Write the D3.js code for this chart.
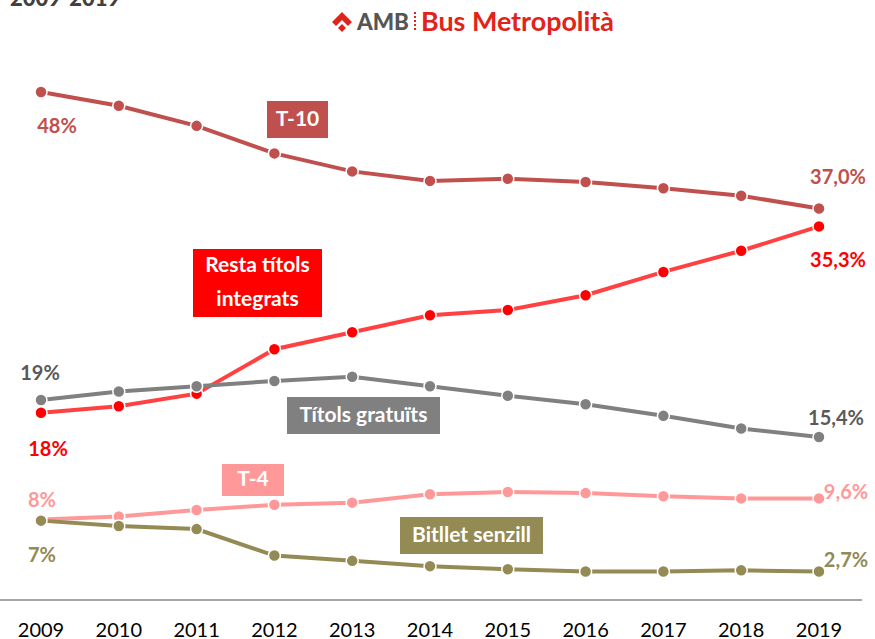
<!DOCTYPE html>
<html>
<head>
<meta charset="utf-8">
<script src="https://cdn.jsdelivr.net/npm/d3@7"></script>
<style>
  body { margin: 0; background: #fff; }
  svg { font-family: Lato, "Open Sans", sans-serif; }
</style>
</head>
<body>
<div id="chart"></div>
<script>
// Data: share of trips by ticket type, 2009-2019
const years = ["2009", "2010", "2011", "2012", "2013", "2014", "2015", "2016", "2017", "2018", "2019"];
const t10 = [48.0, 46.7, 44.8, 42.2, 40.5, 39.6, 39.8, 39.5, 38.9, 38.2, 37.0];
const resta = [17.7, 18.3, 19.5, 23.7, 25.3, 26.9, 27.4, 28.8, 31.0, 33.0, 35.3];
const gratuits = [18.9, 19.7, 20.2, 20.7, 21.1, 20.2, 19.3, 18.5, 17.4, 16.2, 15.4];
const t4 = [7.6, 7.9, 8.5, 9.0, 9.2, 10.0, 10.2, 10.1, 9.8, 9.6, 9.6];
const bitllet = [7.5, 7.0, 6.7, 4.2, 3.7, 3.2, 2.9, 2.7, 2.7, 2.8, 2.7];

const width = 875;
const height = 639;

const svg = d3.select("#chart")
  .append("svg")
  .attr("width", width)
  .attr("height", height);

const x = d3.scalePoint().domain(years).range([41, 819]);
const y = d3.scaleLinear().domain([0, 48]).range([600, 92]);

// title (cut at top) and logo
svg.append("text")
  .attr("x", 10).attr("y", 6)
  .style("font-size", "22px").style("font-weight", "900")
  .style("fill", "#404040")
  .text("2009-2019");

const logo = svg.append("g").attr("transform", "translate(332,22)");
logo.append("path")
  .attr("d", "M0,0 L10,-10 L20,0 L16,4 L10,-2 L4,4 Z M6,6 L10,2 L14,6 L10,10 Z")
  .attr("fill", "#e2231a");
logo.append("text")
  .attr("x", 25).attr("y", 8)
  .attr("textLength", 52)
  .attr("lengthAdjust", "spacingAndGlyphs")
  .style("font-size", "23px").style("font-weight", "900")
  .style("fill", "#555")
  .text("AMB");
logo.append("line")
  .attr("x1", 83).attr("x2", 83).attr("y1", -10).attr("y2", 10)
  .attr("stroke", "#e2231a").attr("stroke-width", 2).attr("stroke-dasharray", "2,2");
logo.append("text")
  .attr("x", 89).attr("y", 9)
  .attr("textLength", 193)
  .attr("lengthAdjust", "spacingAndGlyphs")
  .style("font-size", "26px").style("font-weight", "bold")
  .style("fill", "#e2231a")
  .text("Bus Metropolità");

// x axis line and labels
svg.append("line")
  .attr("x1", 0).attr("x2", 862)
  .attr("y1", y(0)).attr("y2", y(0))
  .attr("stroke", "#a6a6a6").attr("stroke-width", 2);

svg.selectAll(".year")
  .data(years)
  .enter()
  .append("text")
  .attr("class", "year")
  .attr("x", d => x(d))
  .attr("y", 637)
  .attr("text-anchor", "middle")
  .style("font-size", "20px")
  .style("fill", "#000")
  .text(d => d);

const series = [
  { name: "T-10", values: t10, line: "#c0504d", dot: "#c0504d", text: "#c0504d" },
  { name: "Resta", values: resta, line: "#ff4141", dot: "#ff0000", text: "#ff0000" },
  { name: "Gratuits", values: gratuits, line: "#808080", dot: "#808080", text: "#595959" },
  { name: "T-4", values: t4, line: "#ff9999", dot: "#ff9999", text: "#ff9999" },
  { name: "Bitllet", values: bitllet, line: "#948a54", dot: "#948a54", text: "#948a54" }
];

const line = d3.line()
  .x((d, i) => x(years[i]))
  .y(d => y(d));

series.forEach(s => {
  svg.append("path")
    .attr("d", line(s.values))
    .attr("fill", "none")
    .attr("stroke", s.line)
    .attr("stroke-width", 4);
  svg.selectAll(null)
    .data(s.values)
    .enter()
    .append("circle")
    .attr("cx", (d, i) => x(years[i]))
    .attr("cy", d => y(d))
    .attr("r", 6)
    .attr("fill", s.dot)
    .attr("stroke", "#fff")
    .attr("stroke-width", 1.5);
});

// value labels at start and end
const endLabels = [
  { s: 0, i: 0, text: "48%", dx: 16, dy: 36 },
  { s: 0, i: 10, text: "37,0%", dx: 19, dy: -30 },
  { s: 1, i: 10, text: "35,3%", dx: 19, dy: 35 },
  { s: 2, i: 0, text: "19%", dx: -1, dy: -25 },
  { s: 1, i: 0, text: "18%", dx: 7, dy: 38 },
  { s: 2, i: 10, text: "15,4%", dx: 17, dy: -17 },
  { s: 3, i: 0, text: "8%", dx: 1, dy: -18 },
  { s: 4, i: 0, text: "7%", dx: 1, dy: 36 },
  { s: 3, i: 10, text: "9,6%", dx: 27, dy: -5 },
  { s: 4, i: 10, text: "2,7%", dx: 27, dy: -10 }
];

svg.selectAll(".val")
  .data(endLabels)
  .enter()
  .append("text")
  .attr("class", "val")
  .attr("x", d => x(years[d.i]) + d.dx)
  .attr("y", d => y(series[d.s].values[d.i]) + d.dy)
  .attr("text-anchor", "middle")
  .attr("dominant-baseline", "middle")
  .style("font-size", "20px")
  .style("font-weight", "bold")
  .style("fill", d => series[d.s].text)
  .text(d => d.text);

// boxed series names
const boxes = [
  { lines: ["T-10"], x: 267, y: 101, w: 61, h: 37, fill: "#c0504d" },
  { lines: ["Resta títols", "integrats"], x: 193, y: 249, w: 129, h: 68, fill: "#ff0000" },
  { lines: ["Títols gratuïts"], x: 287, y: 397, w: 153, h: 37, fill: "#808080" },
  { lines: ["T-4"], x: 222, y: 464, w: 62, h: 32, fill: "#ff9999" },
  { lines: ["Bitllet senzill"], x: 400, y: 517, w: 143, h: 37, fill: "#948a54" }
];

boxes.forEach(b => {
  const g = svg.append("g");
  g.append("rect")
    .attr("x", b.x).attr("y", b.y)
    .attr("width", b.w).attr("height", b.h)
    .attr("fill", b.fill);
  const lh = b.h / b.lines.length;
  b.lines.forEach((t, k) => {
    g.append("text")
      .attr("x", b.x + b.w / 2)
      .attr("y", b.y + lh * k + lh / 2 + 1)
      .attr("text-anchor", "middle")
      .attr("dominant-baseline", "middle")
      .style("font-size", "21px")
      .style("font-weight", "bold")
      .style("fill", "#fff")
      .text(t);
  });
});
</script>
</body>
</html>
